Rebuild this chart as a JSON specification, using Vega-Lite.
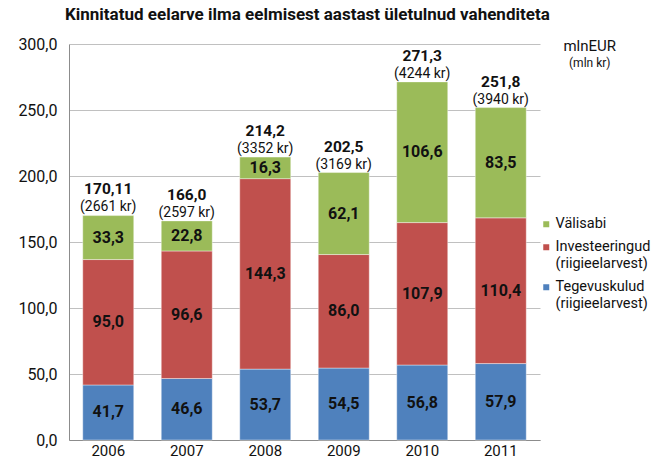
{
  "$schema": "https://vega.github.io/schema/vega-lite/v6.json",
  "autosize": {"type": "none"},
  "width": 471,
  "height": 396,
  "padding": {"left": 69, "top": 44, "right": 116, "bottom": 21},
  "background": "white",
  "config": {
    "locale": {"number": {"decimal": ",", "thousands": " ", "grouping": [3], "currency": ["", " €"]}},
    "font": "Roboto",
    "view": {"stroke": null},
    "axis": {"labelFont": "Roboto", "labelColor": "#111", "titleFont": "Roboto"},
    "legend": {"labelFont": "Roboto"}
  },
  "title": {
    "text": "Kinnitatud eelarve ilma eelmisest aastast ületulnud vahenditeta",
    "anchor": "start",
    "frame": "group",
    "dx": -4,
    "offset": 12,
    "fontSize": 17,
    "fontWeight": "bold",
    "color": "#111",
    "font": "Roboto"
  },
  "datasets": {
    "segments": [
      {"year": "2006", "category": "Tegevuskulud|(riigieelarvest)", "rank": 1, "value": 41.7},
      {"year": "2006", "category": "Investeeringud|(riigieelarvest)", "rank": 2, "value": 95.0},
      {"year": "2006", "category": "Välisabi", "rank": 3, "value": 33.3},
      {"year": "2007", "category": "Tegevuskulud|(riigieelarvest)", "rank": 1, "value": 46.6},
      {"year": "2007", "category": "Investeeringud|(riigieelarvest)", "rank": 2, "value": 96.6},
      {"year": "2007", "category": "Välisabi", "rank": 3, "value": 22.8},
      {"year": "2008", "category": "Tegevuskulud|(riigieelarvest)", "rank": 1, "value": 53.7},
      {"year": "2008", "category": "Investeeringud|(riigieelarvest)", "rank": 2, "value": 144.3},
      {"year": "2008", "category": "Välisabi", "rank": 3, "value": 16.3},
      {"year": "2009", "category": "Tegevuskulud|(riigieelarvest)", "rank": 1, "value": 54.5},
      {"year": "2009", "category": "Investeeringud|(riigieelarvest)", "rank": 2, "value": 86.0},
      {"year": "2009", "category": "Välisabi", "rank": 3, "value": 62.1},
      {"year": "2010", "category": "Tegevuskulud|(riigieelarvest)", "rank": 1, "value": 56.8},
      {"year": "2010", "category": "Investeeringud|(riigieelarvest)", "rank": 2, "value": 107.9},
      {"year": "2010", "category": "Välisabi", "rank": 3, "value": 106.6},
      {"year": "2011", "category": "Tegevuskulud|(riigieelarvest)", "rank": 1, "value": 57.9},
      {"year": "2011", "category": "Investeeringud|(riigieelarvest)", "rank": 2, "value": 110.4},
      {"year": "2011", "category": "Välisabi", "rank": 3, "value": 83.5}
    ],
    "totals": [
      {"year": "2006", "total": 170.11, "label": "170,11", "kr": "(2661  kr)"},
      {"year": "2007", "total": 166.0, "label": "166,0", "kr": "(2597 kr)"},
      {"year": "2008", "total": 214.2, "label": "214,2", "kr": "(3352 kr)"},
      {"year": "2009", "total": 202.5, "label": "202,5", "kr": "(3169 kr)"},
      {"year": "2010", "total": 271.3, "label": "271,3", "kr": "(4244 kr)"},
      {"year": "2011", "total": 251.8, "label": "251,8", "kr": "(3940 kr)"}
    ],
    "units": [
      {"year": "2011", "y": 300, "line1": "mlnEUR", "line2": "(mln kr)"}
    ]
  },
  "layer": [
    {
      "data": {"name": "segments"},
      "mark": {"type": "bar", "width": 51, "stroke": "white", "strokeOpacity": 0.5, "strokeWidth": 0.8},
      "encoding": {
        "x": {
          "field": "year", "type": "nominal", "title": null, "sort": null,
          "scale": {"paddingInner": 0.35, "paddingOuter": 0.175},
          "axis": {"labelAngle": 0, "labelFontSize": 15, "labelPadding": 3, "ticks": false, "domainColor": "#8c8c8c", "labelColor": "#111"}
        },
        "y": {
          "field": "value", "type": "quantitative", "stack": "zero", "title": null,
          "scale": {"domain": [0, 300]},
          "axis": {"values": [0, 50, 100, 150, 200, 250, 300], "format": ".1f", "labelFontSize": 16, "labelPadding": 12, "ticks": false, "domain": true, "domainColor": "#8c8c8c", "gridColor": "#c0c0c0", "labelColor": "#111"}
        },
        "color": {
          "field": "category", "type": "nominal",
          "scale": {"domain": ["Välisabi", "Investeeringud|(riigieelarvest)", "Tegevuskulud|(riigieelarvest)"], "range": ["#9BBB59", "#C0504D", "#4F81BD"]},
          "legend": {
            "title": null, "orient": "none", "legendX": 470, "legendY": 173,
            "symbolType": "square", "symbolSize": 36, "symbolStrokeWidth": 0,
            "labelFontSize": 14.5, "labelColor": "#111", "labelOffset": 2, "rowPadding": 8,
            "labelExpr": "split(datum.label, '|')", "labelLimit": 200
          }
        },
        "order": {"field": "rank", "type": "quantitative"}
      }
    },
    {
      "data": {"name": "segments"},
      "mark": {"type": "text", "fontSize": 16, "fontWeight": "bold", "color": "#111", "baseline": "middle"},
      "encoding": {
        "x": {"field": "year", "type": "nominal", "sort": null},
        "y": {"field": "value", "type": "quantitative", "stack": "zero", "bandPosition": 0.5},
        "text": {"field": "value", "type": "quantitative", "format": ".1f"},
        "order": {"field": "rank", "type": "quantitative"}
      }
    },
    {
      "data": {"name": "totals"},
      "mark": {"type": "text", "fontSize": 15.5, "fontWeight": "bold", "color": "#111", "baseline": "alphabetic", "dy": -21},
      "encoding": {
        "x": {"field": "year", "type": "nominal", "sort": null},
        "y": {"field": "total", "type": "quantitative"},
        "text": {"field": "label"}
      }
    },
    {
      "data": {"name": "totals"},
      "mark": {"type": "text", "fontSize": 14, "color": "#111", "baseline": "alphabetic", "dy": -4},
      "encoding": {
        "x": {"field": "year", "type": "nominal", "sort": null},
        "y": {"field": "total", "type": "quantitative"},
        "text": {"field": "kr"}
      }
    },
    {
      "data": {"name": "units"},
      "mark": {"type": "text", "color": "#111", "baseline": "middle", "align": "center", "dx": 89, "dy": 2, "fontSize": 15},
      "encoding": {
        "x": {"field": "year", "type": "nominal", "sort": null},
        "y": {"field": "y", "type": "quantitative"},
        "text": {"field": "line1"}
      }
    },
    {
      "data": {"name": "units"},
      "mark": {"type": "text", "color": "#111", "baseline": "middle", "align": "center", "dx": 89, "dy": 19, "fontSize": 12},
      "encoding": {
        "x": {"field": "year", "type": "nominal", "sort": null},
        "y": {"field": "y", "type": "quantitative"},
        "text": {"field": "line2"}
      }
    }
  ]
}
